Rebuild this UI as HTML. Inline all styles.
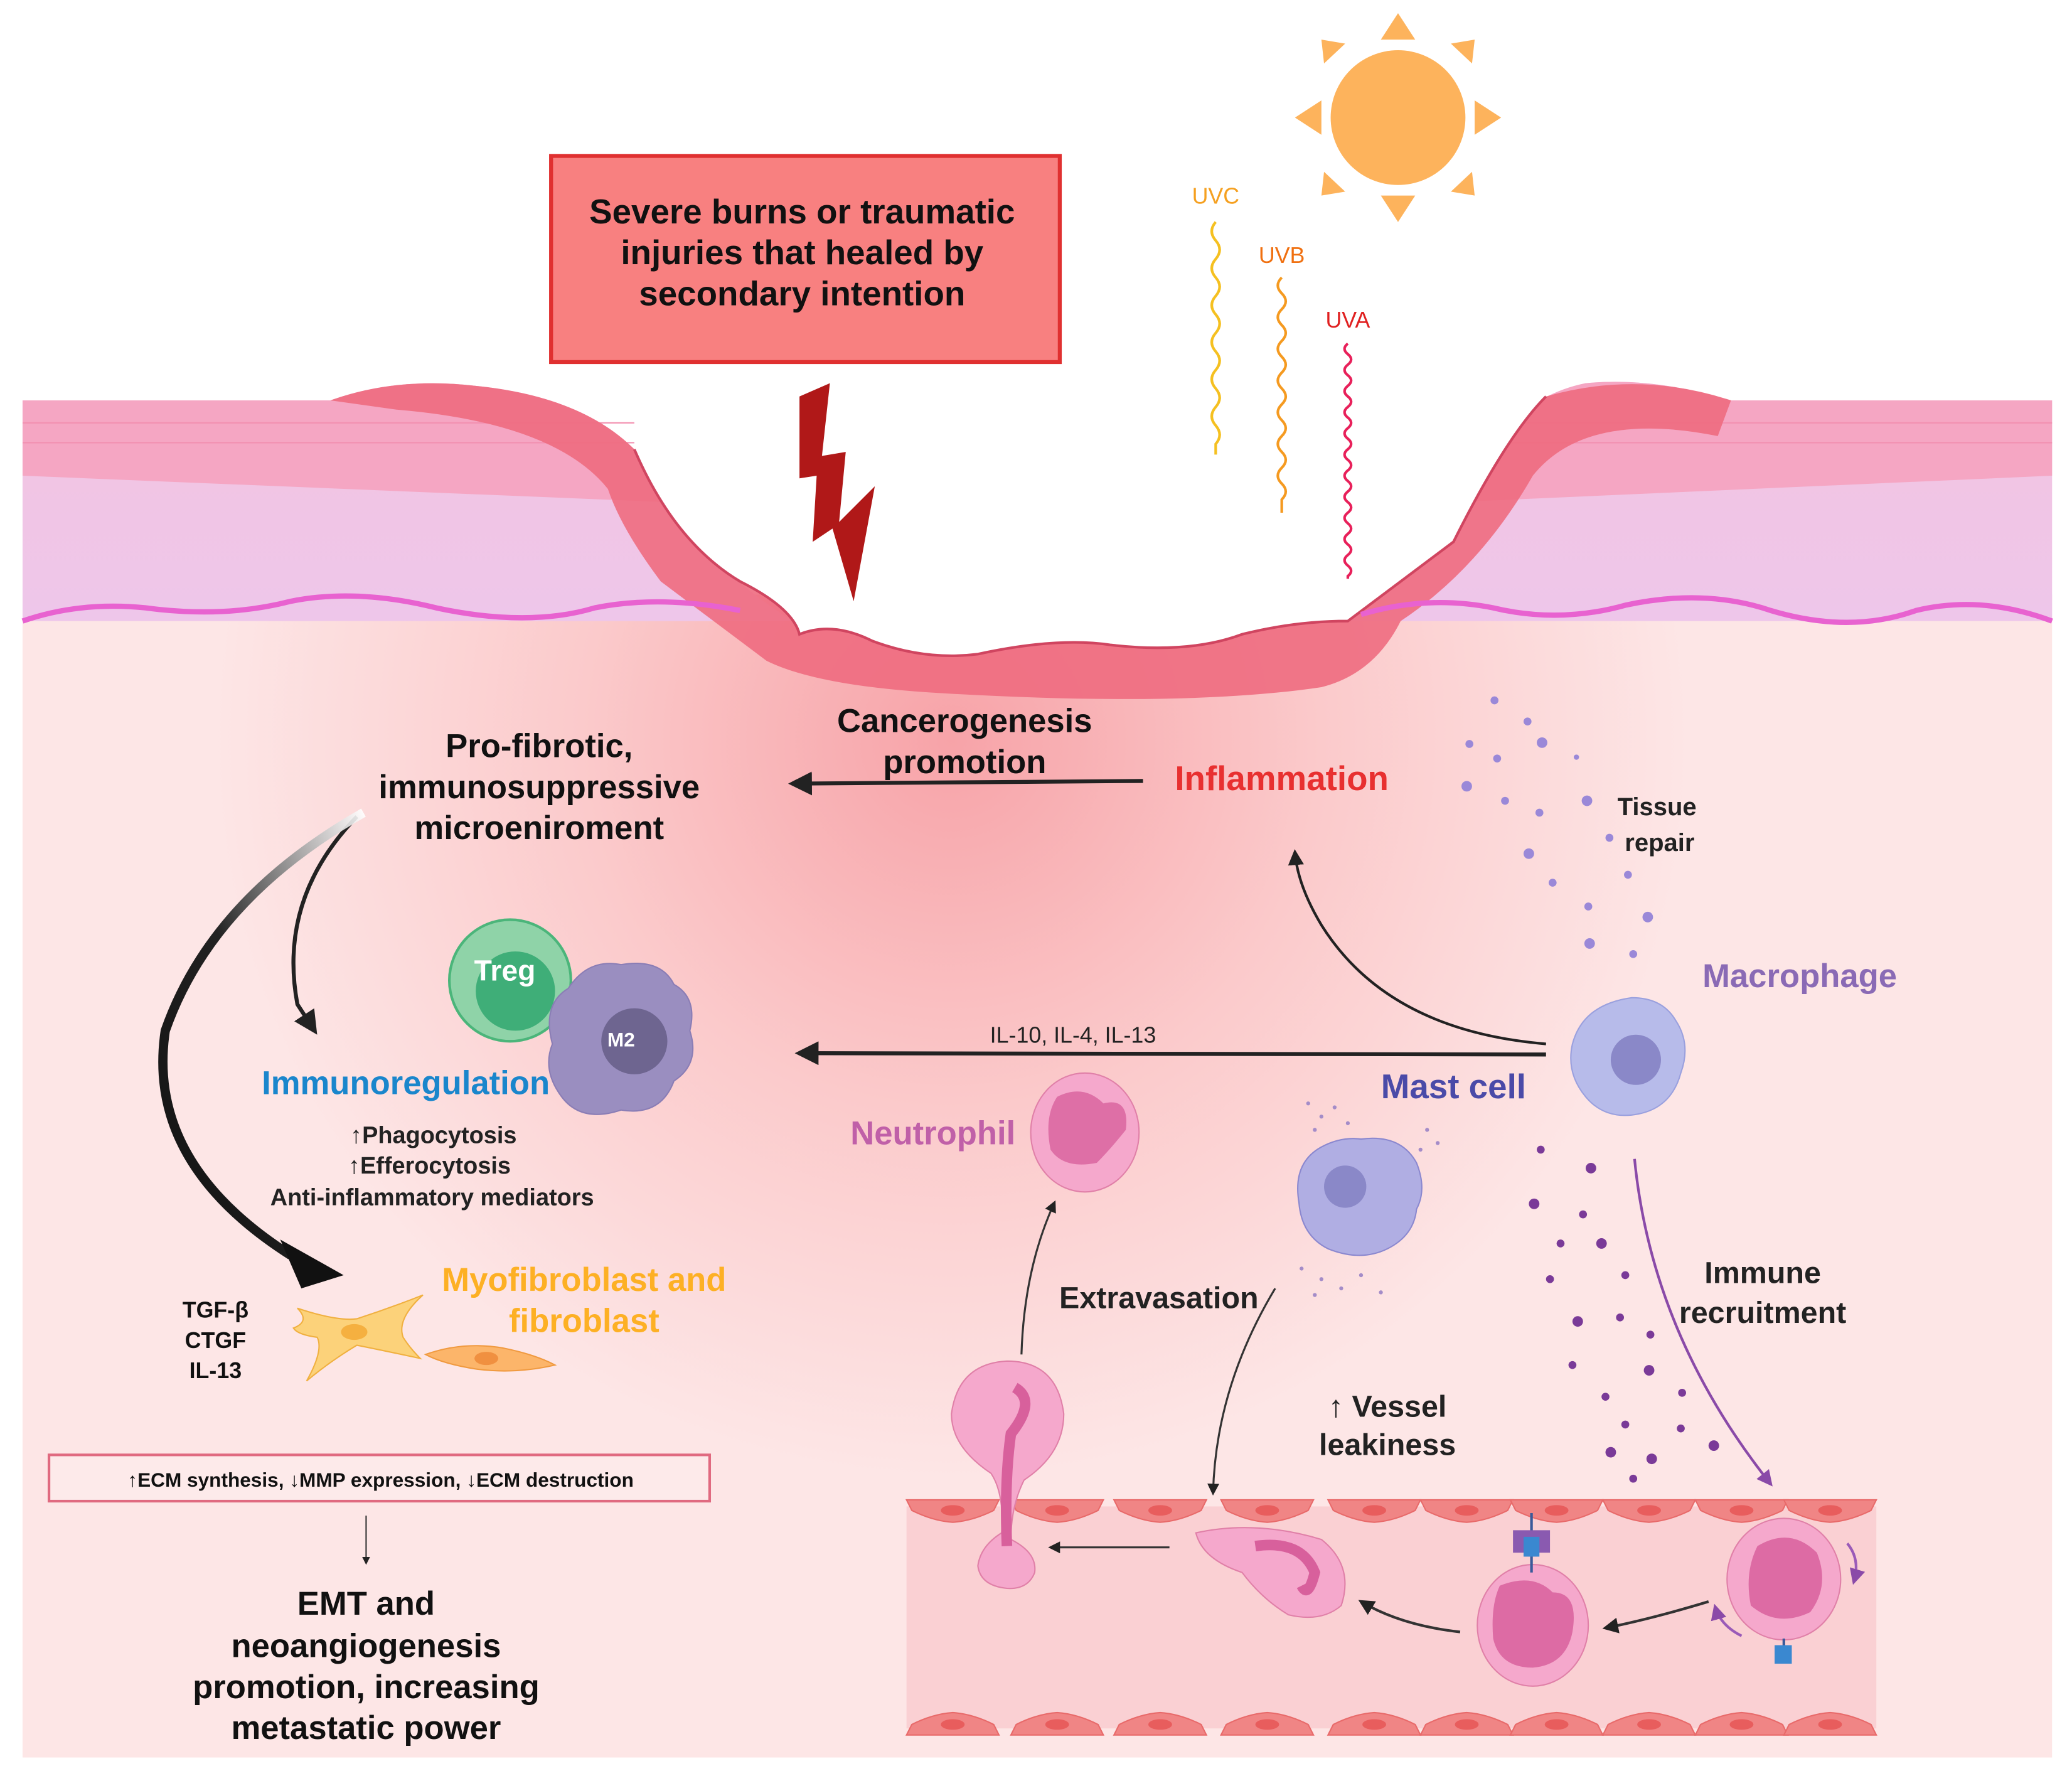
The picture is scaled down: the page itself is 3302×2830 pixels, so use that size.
<!DOCTYPE html>
<html><head><meta charset="utf-8"><style>
html,body{margin:0;padding:0;background:#fff}
svg{display:block}
text{font-family:"Liberation Sans",sans-serif;font-weight:bold}
</style></head><body>
<svg width="3302" height="2830" viewBox="0 0 1568 1344" xmlns="http://www.w3.org/2000/svg">
<defs>
<radialGradient id="dg" cx="720" cy="560" r="560" gradientUnits="userSpaceOnUse">
<stop offset="0" stop-color="#f7a3a8"/><stop offset="0.5" stop-color="#fbcacb"/><stop offset="1" stop-color="#fde6e6"/>
</radialGradient>
<linearGradient id="lav" x1="0" y1="0" x2="0" y2="1"><stop offset="0" stop-color="#f3c4e0"/><stop offset="1" stop-color="#eec6ea"/></linearGradient>
<linearGradient id="fade" x1="1" y1="0" x2="0" y2="1"><stop offset="0" stop-color="#fff" stop-opacity="0.9"/><stop offset="0.5" stop-color="#222"/><stop offset="1" stop-color="#111"/></linearGradient>
<marker id="ah" viewBox="0 0 10 10" refX="8" refY="5" markerWidth="6" markerHeight="6" orient="auto"><path d="M0,0L10,5L0,10z" fill="#222"/></marker>
<marker id="ahp" viewBox="0 0 10 10" refX="8" refY="5" markerWidth="6" markerHeight="6" orient="auto"><path d="M0,0L10,5L0,10z" fill="#8a4aa8"/></marker>
<g id="endo"><path d="M0,0 H70 L66,8 Q50,16 35,17 Q20,16 4,8 Z" fill="#f08585" stroke="#e86a6a" stroke-width="1"/><ellipse cx="35" cy="8" rx="9" ry="4" fill="#e85d5d"/></g>
<g id="endob"><path d="M0,15 H70 L66,7 Q50,-1 35,-2 Q20,-1 4,7 Z" fill="#f08585" stroke="#e86a6a" stroke-width="1"/><ellipse cx="35" cy="7" rx="9" ry="4" fill="#e85d5d"/></g>
</defs>
<rect width="1568" height="1344" fill="#fff"/>
<!-- dermis -->
<rect x="17" y="450" width="1536" height="880" fill="url(#dg)"/>
<!-- left skin layers -->
<path d="M17,303 H250 Q300,285 360,292 Q440,300 480,340 Q520,420 600,470 L17,470 Z" fill="url(#lav)"/>
<path d="M17,303 H250 Q300,285 360,292 Q440,300 480,340 Q495,360 505,380 L17,360 Z" fill="#f5a6c3"/>
<path d="M1553,303 H1310 Q1250,285 1200,290 Q1150,300 1120,350 Q1080,420 1020,470 L1553,470 Z" fill="url(#lav)"/>
<path d="M1553,303 H1310 Q1250,285 1200,290 Q1150,300 1120,350 Q1110,365 1100,380 L1553,360 Z" fill="#f5a6c3"/>
<g stroke="#f290b0" stroke-width="1" fill="none"><path d="M17,320 H500"/><path d="M17,335 H500"/><path d="M1100,320 H1553"/><path d="M1100,335 H1553"/></g>
<!-- crater epidermis -->
<path d="M250,303 Q300,285 360,292 Q440,300 480,340 Q510,410 560,440 Q600,460 605,480 Q630,470 660,485 Q700,500 740,495 Q800,482 840,488 Q900,495 940,480 Q980,470 1020,470 Q1060,440 1100,410 Q1140,330 1170,300 Q1240,280 1310,303 L1300,330 Q1200,310 1160,360 Q1120,430 1060,470 Q1040,510 1000,520 Q900,535 720,525 Q620,520 580,500 Q540,470 500,440 Q470,400 460,370 Q420,320 300,310 Z" fill="#ee6b80" opacity="0.9"/>
<!-- white crater interior -->
<path d="M480,340 Q510,410 560,440 Q600,460 605,480 Q630,470 660,485 Q700,500 740,495 Q800,482 840,488 Q900,495 940,480 Q980,470 1020,470 Q1060,440 1100,410 Q1140,330 1170,300 L1170,0 L480,0 Z" fill="#fff"/>
<path d="M480,340 Q510,410 560,440 Q600,460 605,480 Q630,470 660,485 Q700,500 740,495 Q800,482 840,488 Q900,495 940,480 Q980,470 1020,470 Q1060,440 1100,410 Q1140,330 1170,300" fill="none" stroke="#d04560" stroke-width="2"/>
<!-- wavy basement line -->
<path d="M17,470 Q60,455 110,460 Q170,468 220,455 Q270,445 330,460 Q400,475 450,460 Q500,450 560,462" fill="none" stroke="#e862d0" stroke-width="4"/>
<path d="M1030,465 Q1080,450 1130,460 Q1180,472 1230,458 Q1290,445 1340,462 Q1400,480 1450,462 Q1500,450 1553,470" fill="none" stroke="#e862d0" stroke-width="4"/>
<!-- red box -->
<rect x="417" y="118" width="385" height="156" fill="#f88080" stroke="#e03030" stroke-width="3"/>
<text x="607" y="169" font-size="26" text-anchor="middle" fill="#111">Severe burns or traumatic</text>
<text x="607" y="200" font-size="26" text-anchor="middle" fill="#111">injuries that healed by</text>
<text x="607" y="231" font-size="26" text-anchor="middle" fill="#111">secondary intention</text>
<!-- lightning -->
<path d="M605,300 L628,290 L622,345 L640,342 L635,395 L662,368 L646,455 L630,400 L615,410 L618,360 L605,362 Z" fill="#b01818"/>
<!-- sun -->
<circle cx="1058" cy="89" r="51" fill="#fdb35c"/>
<g fill="#fdb35c">
<path d="M1045,30 L1058,10 L1071,30Z"/><path d="M1045,148 L1058,168 L1071,148Z"/>
<path d="M1000,76 L980,89 L1000,102Z"/><path d="M1116,76 L1136,89 L1116,102Z"/>
<path d="M1002,48 L1000,30 L1018,33Z"/><path d="M1098,33 L1116,30 L1114,48Z"/>
<path d="M1002,130 L1000,148 L1018,145Z"/><path d="M1098,145 L1116,148 L1114,130Z"/>
</g>
<!-- UV -->
<text x="920" y="154" font-size="17" fill="#f5a020" text-anchor="middle" style="font-weight:normal">UVC</text>
<text x="970" y="199" font-size="17" fill="#f07010" text-anchor="middle" style="font-weight:normal">UVB</text>
<text x="1020" y="248" font-size="17" fill="#e02020" text-anchor="middle" style="font-weight:normal">UVA</text>
<path d="M920,168 q-6,7 0,14 q6,7 0,14 q-6,7 0,14 q6,7 0,14 q-6,7 0,14 q6,7 0,14 q-6,7 0,14 q6,7 0,14 q-6,7 0,14 q6,7 0,14 q-6,7 0,14 q6,7 0,14 V344" fill="none" stroke="#f5c020" stroke-width="2"/>
<path d="M970,210 q-6,6 0,12 q6,6 0,12 q-6,6 0,12 q6,6 0,12 q-6,6 0,12 q6,6 0,12 q-6,6 0,12 q6,6 0,12 q-6,6 0,12 q6,6 0,12 q-6,6 0,12 q6,6 0,12 q-6,6 0,12 q6,6 0,12 V388" fill="none" stroke="#f59a20" stroke-width="2"/>
<path d="M1020,260 q-5,4 0,8 q5,4 0,8 q-5,4 0,8 q5,4 0,8 q-5,4 0,8 q5,4 0,8 q-5,4 0,8 q5,4 0,8 q-5,4 0,8 q5,4 0,8 q-5,4 0,8 q5,4 0,8 q-5,4 0,8 q5,4 0,8 q-5,4 0,8 q5,4 0,8 q-5,4 0,8 q5,4 0,8 q-5,4 0,8 q5,4 0,8 q-5,4 0,8 q5,4 0,8 V438" fill="none" stroke="#e8205a" stroke-width="2"/>
<!-- Cancerogenesis -->
<text x="730" y="554" font-size="25" text-anchor="middle" fill="#111">Cancerogenesis</text>
<text x="730" y="585" font-size="25" text-anchor="middle" fill="#111">promotion</text>
<path d="M865,591 L600,593" stroke="#222" stroke-width="3" marker-end="url(#ah)"/>
<text x="970" y="598" font-size="26" text-anchor="middle" fill="#e83030">Inflammation</text>
<text x="408" y="573" font-size="25" text-anchor="middle" fill="#111">Pro-fibrotic,</text>
<text x="408" y="604" font-size="25" text-anchor="middle" fill="#111">immunosuppressive</text>
<text x="408" y="635" font-size="25" text-anchor="middle" fill="#111">microeniroment</text>
<!-- curved arrows left -->
<path d="M270,618 Q210,680 225,760 L238,780" fill="none" stroke="#222" stroke-width="3" marker-end="url(#ah)"/>
<path d="M275,615 Q160,680 125,780 Q110,880 220,950" fill="none" stroke="url(#fade)" stroke-width="7"/>
<path d="M212,938 L260,965 L228,975 Z" fill="#111"/>
<!-- Treg & M2 -->
<circle cx="386" cy="742" r="46" fill="#8fd3a8" stroke="#4bb57a" stroke-width="2"/>
<circle cx="390" cy="750" r="30" fill="#3fae78"/>
<text x="382" y="742" font-size="22" text-anchor="middle" fill="#fff">Treg</text>
<path d="M470,730 Q500,725 510,745 Q528,755 522,780 Q530,805 510,818 Q500,845 470,840 Q440,850 425,830 Q410,810 418,790 Q410,760 430,748 Q445,725 470,730 Z" fill="#9a8ec0" stroke="#8a7db5"/>
<circle cx="480" cy="788" r="25" fill="#6e6590"/>
<text x="470" y="792" font-size="15" text-anchor="middle" fill="#fff">M2</text>
<text x="307" y="828" font-size="25" text-anchor="middle" fill="#1a86cc">Immunoregulation</text>
<text x="328" y="865" font-size="18" text-anchor="middle" fill="#222">↑Phagocytosis</text>
<text x="325" y="888" font-size="18" text-anchor="middle" fill="#222">↑Efferocytosis</text>
<text x="327" y="912" font-size="18" text-anchor="middle" fill="#222">Anti-inflammatory mediators</text>
<!-- fibroblasts -->
<text x="163" y="997" font-size="17" text-anchor="middle" fill="#111">TGF-β</text>
<text x="163" y="1020" font-size="17" text-anchor="middle" fill="#111">CTGF</text>
<text x="163" y="1043" font-size="17" text-anchor="middle" fill="#111">IL-13</text>
<path d="M225,990 Q255,1000 270,998 Q295,990 320,980 Q300,998 305,1012 Q310,1020 318,1028 Q290,1022 270,1018 Q250,1030 232,1045 Q245,1022 240,1012 Q225,1010 222,1005 Q235,1000 225,990Z" fill="#fcd27a" stroke="#f0b040"/>
<ellipse cx="268" cy="1008" rx="10" ry="6" fill="#f5b040"/>
<path d="M322,1025 Q350,1015 380,1020 Q405,1025 420,1033 Q390,1040 360,1036 Q335,1032 322,1025Z" fill="#fcb56a" stroke="#f09a40"/>
<ellipse cx="368" cy="1028" rx="9" ry="5" fill="#f09040"/>
<text x="442" y="977" font-size="25" text-anchor="middle" fill="#fdb024">Myofibroblast and</text>
<text x="442" y="1008" font-size="25" text-anchor="middle" fill="#fdb024">fibroblast</text>
<!-- ECM box -->
<rect x="37" y="1101" width="500" height="35" fill="#fdeaea" stroke="#e06a80" stroke-width="2"/>
<text x="288" y="1125" font-size="15" text-anchor="middle" fill="#111">↑ECM synthesis, ↓MMP expression, ↓ECM destruction</text>
<path d="M277,1147 V1183" stroke="#333" stroke-width="1" marker-end="url(#ah)"/>
<text x="277" y="1222" font-size="25" text-anchor="middle" fill="#111">EMT and</text>
<text x="277" y="1254" font-size="25" text-anchor="middle" fill="#111">neoangiogenesis</text>
<text x="277" y="1285" font-size="25" text-anchor="middle" fill="#111">promotion, increasing</text>
<text x="277" y="1316" font-size="25" text-anchor="middle" fill="#111">metastatic power</text>
<!-- right side -->
<path d="M1170,790 Q1050,780 1000,700 Q982,670 980,645" fill="none" stroke="#222" stroke-width="2" marker-end="url(#ah)"/>
<path d="M1170,798 L605,797" stroke="#222" stroke-width="3" marker-end="url(#ah)"/>
<text x="812" y="789" font-size="17" text-anchor="middle" fill="#222" style="font-weight:normal">IL-10, IL-4, IL-13</text>
<text x="1362" y="747" font-size="25" text-anchor="middle" fill="#8a6ab5">Macrophage</text>
<path d="M1235,755 Q1258,755 1268,772 Q1280,790 1272,812 Q1265,838 1240,843 Q1215,848 1200,830 Q1185,812 1190,790 Q1198,760 1235,755Z" fill="#b7bbea" stroke="#9aa0de"/>
<circle cx="1238" cy="802" r="19" fill="#8a88c8"/>
<text x="1254" y="617" font-size="19" text-anchor="middle" fill="#222">Tissue</text>
<text x="1256" y="644" font-size="19" text-anchor="middle" fill="#222">repair</text>
<g fill="#9a88d8">
<circle cx="1131" cy="530" r="3"/><circle cx="1156" cy="546" r="3"/><circle cx="1112" cy="563" r="3"/><circle cx="1167" cy="562" r="4"/><circle cx="1133" cy="574" r="3"/><circle cx="1193" cy="573" r="2"/><circle cx="1110" cy="595" r="4"/><circle cx="1139" cy="606" r="3"/><circle cx="1165" cy="615" r="3"/><circle cx="1201" cy="606" r="4"/><circle cx="1218" cy="634" r="3"/><circle cx="1157" cy="646" r="4"/><circle cx="1232" cy="662" r="3"/><circle cx="1175" cy="668" r="3"/><circle cx="1202" cy="686" r="3"/><circle cx="1247" cy="694" r="4"/><circle cx="1203" cy="714" r="4"/><circle cx="1236" cy="722" r="3"/>
</g>
<g fill="#7a3a98">
<circle cx="1166" cy="870" r="3"/><circle cx="1204" cy="884" r="4"/><circle cx="1161" cy="911" r="4"/><circle cx="1198" cy="919" r="3"/><circle cx="1181" cy="941" r="3"/><circle cx="1212" cy="941" r="4"/><circle cx="1230" cy="965" r="3"/><circle cx="1173" cy="968" r="3"/><circle cx="1194" cy="1000" r="4"/><circle cx="1226" cy="997" r="3"/><circle cx="1249" cy="1010" r="3"/><circle cx="1190" cy="1033" r="3"/><circle cx="1248" cy="1037" r="4"/><circle cx="1273" cy="1054" r="3"/><circle cx="1215" cy="1057" r="3"/><circle cx="1230" cy="1078" r="3"/><circle cx="1272" cy="1081" r="3"/><circle cx="1219" cy="1099" r="4"/><circle cx="1250" cy="1104" r="4"/><circle cx="1297" cy="1094" r="4"/><circle cx="1236" cy="1119" r="3"/>
</g>
<path d="M1237,877 Q1250,1010 1340,1123" fill="none" stroke="#8a4aa8" stroke-width="2" marker-end="url(#ahp)"/>
<text x="1334" y="971" font-size="23" text-anchor="middle" fill="#222">Immune</text>
<text x="1334" y="1001" font-size="23" text-anchor="middle" fill="#222">recruitment</text>
<text x="1100" y="831" font-size="26" text-anchor="middle" fill="#4a4aa8">Mast cell</text>
<path d="M1030,862 Q1060,858 1072,880 Q1080,900 1072,915 Q1070,935 1050,945 Q1030,955 1005,945 Q985,935 983,910 Q978,880 1000,868 Q1015,860 1030,862Z" fill="#b0aee3" stroke="#8b88cf"/>
<circle cx="1018" cy="898" r="16" fill="#8a88c8"/>
<g fill="#a48cc8"><circle cx="990" cy="835" r="1.5"/><circle cx="1000" cy="845" r="1.5"/><circle cx="1010" cy="838" r="1.5"/><circle cx="1020" cy="850" r="1.5"/><circle cx="995" cy="855" r="1.5"/><circle cx="1080" cy="855" r="1.5"/><circle cx="1088" cy="865" r="1.5"/><circle cx="1075" cy="870" r="1.5"/><circle cx="985" cy="960" r="1.5"/><circle cx="1000" cy="968" r="1.5"/><circle cx="1015" cy="975" r="1.5"/><circle cx="1030" cy="965" r="1.5"/><circle cx="1045" cy="978" r="1.5"/><circle cx="995" cy="980" r="1.5"/></g>
<text x="706" y="866" font-size="25" text-anchor="middle" fill="#c060a8">Neutrophil</text>
<ellipse cx="821" cy="857" rx="41" ry="45" fill="#f5a8cc" stroke="#e080a8"/>
<path d="M800,830 Q820,820 835,835 Q855,830 852,855 Q840,870 830,880 Q805,885 795,870 Q790,845 800,830Z" fill="#d8609c" opacity="0.8"/>
<text x="877" y="990" font-size="23" text-anchor="middle" fill="#222">Extravasation</text>
<path d="M773,1025 Q775,960 798,910" fill="none" stroke="#333" stroke-width="1.5" marker-end="url(#ah)"/>
<path d="M965,975 Q920,1050 918,1130" fill="none" stroke="#333" stroke-width="1.5" marker-end="url(#ah)"/>
<text x="1050" y="1072" font-size="23" text-anchor="middle" fill="#222">↑ Vessel</text>
<text x="1050" y="1101" font-size="23" text-anchor="middle" fill="#222">leakiness</text>
<!-- vessel -->
<rect x="686" y="1140" width="734" height="168" fill="#fad0d3"/>
<use href="#endo" x="686" y="1135"/><use href="#endo" x="765" y="1135"/><use href="#endo" x="843" y="1135"/><use href="#endo" x="924" y="1135"/><use href="#endo" x="1005" y="1135"/><use href="#endo" x="1075" y="1135"/><use href="#endo" x="1143" y="1135"/><use href="#endo" x="1213" y="1135"/><use href="#endo" x="1283" y="1135"/><use href="#endo" x="1350" y="1135"/>
<use href="#endob" x="686" y="1298"/><use href="#endob" x="765" y="1298"/><use href="#endob" x="843" y="1298"/><use href="#endob" x="924" y="1298"/><use href="#endob" x="1005" y="1298"/><use href="#endob" x="1075" y="1298"/><use href="#endob" x="1143" y="1298"/><use href="#endob" x="1213" y="1298"/><use href="#endob" x="1283" y="1298"/><use href="#endob" x="1350" y="1298"/>
<!-- transmigrating neutrophil -->
<path d="M762,1030 Q800,1030 805,1070 Q805,1100 775,1120 Q765,1140 765,1165 Q785,1175 783,1190 Q778,1203 762,1202 Q742,1200 740,1185 Q742,1170 758,1160 Q760,1130 750,1115 Q720,1095 720,1070 Q725,1032 762,1030Z" fill="#f5a8cc" stroke="#e080a8"/>
<path d="M768,1050 Q785,1060 765,1085 Q760,1120 762,1170" fill="none" stroke="#d8609c" stroke-width="8"/>
<path d="M885,1171 L795,1171" stroke="#333" stroke-width="1.5" marker-end="url(#ah)"/>
<!-- crawling -->
<path d="M905,1160 Q950,1150 1000,1165 Q1025,1185 1015,1215 Q1000,1228 975,1222 Q955,1210 940,1190 Q910,1180 905,1160Z" fill="#f5a8cc" stroke="#e080a8"/>
<path d="M950,1170 Q985,1165 995,1190 Q990,1210 985,1200" fill="none" stroke="#d8609c" stroke-width="8"/>
<path d="M1105,1235 Q1060,1230 1030,1212" fill="none" stroke="#333" stroke-width="2" marker-end="url(#ah)"/>
<!-- adhered -->
<ellipse cx="1160" cy="1230" rx="42" ry="46" fill="#f5a8cc" stroke="#e080a8"/>
<path d="M1135,1200 Q1160,1190 1175,1205 Q1195,1205 1190,1235 Q1185,1260 1160,1262 Q1135,1262 1130,1240 Q1128,1215 1135,1200Z" fill="#d8609c" opacity="0.85"/>
<line x1="1159" y1="1145" x2="1159" y2="1190" stroke="#3a5a9a" stroke-width="2"/>
<path d="M1145,1158 H1173 V1175 H1145Z" fill="#8a5ab0"/>
<rect x="1153" y="1163" width="12" height="15" fill="#3a88d0"/>
<path d="M1293,1212 Q1250,1225 1215,1232" fill="none" stroke="#333" stroke-width="2" marker-end="url(#ah)"/>
<!-- rolling -->
<ellipse cx="1350" cy="1195" rx="43" ry="46" fill="#f5a8cc" stroke="#e080a8"/>
<path d="M1330,1170 Q1355,1155 1375,1175 Q1385,1200 1370,1220 Q1345,1232 1325,1215 Q1320,1190 1330,1170Z" fill="#d8609c" opacity="0.85"/>
<line x1="1350" y1="1240" x2="1350" y2="1252" stroke="#3a5a9a" stroke-width="2"/>
<rect x="1343" y="1245" width="13" height="14" fill="#3a88d0"/>
<path d="M1398,1168 Q1408,1180 1403,1197" fill="none" stroke="#9a5ab8" stroke-width="2" marker-end="url(#ahp)"/>
<path d="M1318,1238 Q1302,1230 1298,1216" fill="none" stroke="#9a5ab8" stroke-width="2" marker-end="url(#ahp)"/>
</svg>
</body></html>
